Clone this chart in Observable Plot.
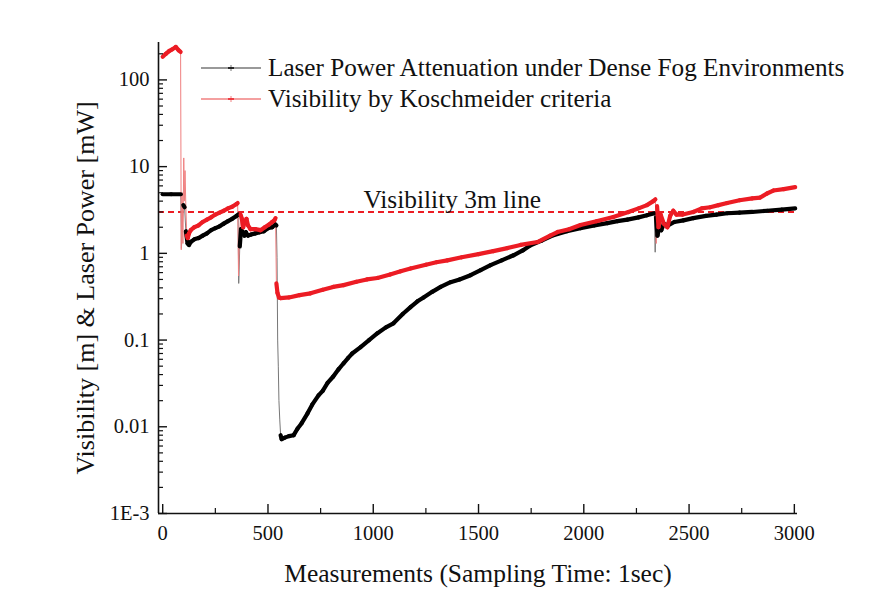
<!DOCTYPE html>
<html><head><meta charset="utf-8">
<script src="https://cdn.jsdelivr.net/npm/d3@7"></script>
<script src="https://cdn.jsdelivr.net/npm/@observablehq/plot@0.6"></script>
<style>
body{margin:0;background:#fff;}
#wrap{position:relative;width:876px;height:600px;font-family:"Liberation Serif","Times New Roman",serif;}
#legend{position:absolute;left:200px;top:52px;font-size:25.2px;color:#111;line-height:31px;}
#legend div{display:flex;align-items:center;white-space:nowrap;}
#legend svg{margin-right:6px;}
</style></head><body><div id="wrap"><div id="legend"></div></div>
<script>
// Laser power attenuation (black) — sample index, power [mW]
const laserX = [0,40,86,89,93,98,104,110,118,125,133,150,170,190,210,230,250,270,290,310,330,350,358,361,366,372,380,388,395,405,420,440,460,480,500,520,535,540,543,546,549,552,556,560,565,580,600,622,640,660,688,710,740,760,783,810,835,859,880,900,940,980,1020,1060,1096,1140,1177,1210,1239,1280,1320,1367,1410,1462,1510,1557,1610,1666,1710,1747,1800,1856,1920,1984,2050,2112,2160,2207,2260,2300,2335,2339,2343,2350,2358,2368,2380,2400,2430,2473,2520,2580,2630,2681,2740,2800,2871,2940,3004];
const laserY = [4.8,4.8,4.8,1.15,2.0,3.6,3.4,1.8,1.3,1.25,1.35,1.45,1.5,1.6,1.7,1.85,1.95,2.05,2.2,2.35,2.5,2.7,2.8,0.45,1.2,1.9,1.75,1.6,1.75,1.6,1.65,1.7,1.75,1.8,1.95,2.0,2.15,2.1,0.9,0.1,0.05,0.02,0.012,0.008,0.0072,0.0075,0.0078,0.008,0.0095,0.011,0.0143,0.018,0.023,0.026,0.032,0.038,0.046,0.054,0.062,0.07,0.083,0.1,0.12,0.14,0.156,0.2,0.24,0.28,0.31,0.36,0.41,0.465,0.5,0.56,0.64,0.73,0.83,0.95,1.08,1.24,1.4,1.62,1.8,1.95,2.1,2.23,2.35,2.45,2.6,2.75,2.9,1.03,2.6,1.6,2.0,1.85,2.2,2.1,2.3,2.4,2.55,2.7,2.8,2.9,2.95,3.0,3.1,3.2,3.3];
// Visibility by Koschmeider criteria (red) — sample index, visibility [m]
const visX = [0,15,30,45,62,75,85,88,92,96,100,103,106,110,114,119,125,133,150,170,190,210,230,250,270,290,310,330,350,356,360,364,370,376,382,390,398,405,417,440,465,485,505,520,530,536,540,545,552,560,600,650,702,760,810,859,920,970,1020,1080,1130,1177,1250,1300,1352,1420,1500,1570,1637,1700,1780,1840,1875,1930,1984,2060,2140,2212,2260,2300,2330,2340,2344,2348,2355,2365,2380,2397,2410,2425,2440,2470,2520,2560,2600,2640,2681,2740,2800,2838,2870,2900,2950,3004];
const visY = [185,200,215,225,240,220,210,1.1,5,1.3,12.6,4,9,3.4,1.6,1.5,1.7,1.85,2.0,2.1,2.3,2.45,2.6,2.8,2.95,3.1,3.3,3.45,3.7,3.8,0.55,1.5,2.8,2.5,2.0,2.3,2.5,2.1,1.9,1.9,1.85,2.0,2.15,2.3,2.4,2.55,0.45,0.35,0.31,0.305,0.31,0.33,0.346,0.38,0.41,0.43,0.47,0.5,0.52,0.57,0.62,0.67,0.74,0.79,0.83,0.9,0.98,1.06,1.15,1.25,1.35,1.6,1.76,1.9,2.12,2.35,2.62,2.99,3.3,3.6,4.0,4.2,1.3,3.5,2.0,2.8,2.2,2.0,2.7,3.1,2.8,2.8,3.0,3.3,3.4,3.6,3.8,4.1,4.3,4.4,4.9,5.3,5.5,5.8];
const seriesNames = ["Laser Power Attenuation under Dense Fog Environments","Visibility by Koschmeider criteria"];
const threshold = 3;
const thresholdLabel = "Visibility 3m line";
const yTicks = [0.001,0.01,0.1,1,10,100];
const yTickLabels = ["1E-3","0.01","0.1","1","10","100"];
const xTicks = [0,500,1000,1500,2000,2500,3000];
const xMinorTicks = [250,750,1250,1750,2250,2750];
const xLabel = "Measurements (Sampling Time: 1sec)";
const yLabel = "Visibility [m] & Laser Power [mW]";

const RED = "#ec1c24", BLACK = "#000";
const W = 876, H = 600, mL = 158, mR = 79, mT = 42, mB = 87;
const plotW = W - mL - mR, plotH = H - mT - mB;

function segments(xs, ys, series) {
  const out = [];
  for (let i = 0; i < xs.length - 1; i++) {
    const slope = Math.abs(Math.log10(ys[i+1]/ys[i])) / (xs[i+1]-xs[i]);
    out.push({x1: xs[i], y1: ys[i], x2: xs[i+1], y2: ys[i+1], series, steep: slope > 0.04});
  }
  return out;
}
const segs = [...segments(laserX, laserY, 0), ...segments(visX, visY, 1)];
const yMinor = [];
for (const d of [0.001,0.01,0.1,1,10,100]) for (let k = 2; k <= 9; k++) if (d*k <= 270) yMinor.push(d*k);
const fmt = new Map(yTicks.map((t,i)=>[t, yTickLabels[i]]));

const chart = Plot.plot({
  width: W, height: H, marginLeft: mL, marginRight: mR, marginTop: mT, marginBottom: mB,
  style: {fontFamily: '"Liberation Serif","Times New Roman",serif', color: "#111", background: "transparent"},
  x: {domain: [-20, 3015]},
  y: {type: "log", domain: [0.001, 270]},
  marks: [
    Plot.ruleY([threshold], {stroke: RED, strokeWidth: 2, strokeDasharray: "6,4"}),
    Plot.text([thresholdLabel], {y: threshold, frameAnchor: "left", textAnchor: "start", dx: 205, dy: -4, lineAnchor: "bottom", fontSize: 25.4, fill: "#111", text: d => d}),
    Plot.link(segs.filter(d => d.steep), {x1: "x1", y1: "y1", x2: "x2", y2: "y2", stroke: d => d.series ? "#f08080" : "#777", strokeWidth: 1}),
    Plot.link(segs.filter(d => !d.steep && d.series === 0), {x1: "x1", y1: "y1", x2: "x2", y2: "y2", stroke: BLACK, strokeWidth: 4.2, strokeLinecap: "round"}),
    Plot.link(segs.filter(d => !d.steep && d.series === 1), {x1: "x1", y1: "y1", x2: "x2", y2: "y2", stroke: RED, strokeWidth: 4.2, strokeLinecap: "round"}),
    Plot.ruleX([-20], {stroke: "#111", strokeWidth: 1.6}),
    Plot.ruleY([0.001], {stroke: "#111", strokeWidth: 1.6}),
    Plot.ruleY(yTicks, {stroke: "#111", strokeWidth: 1.4, insetRight: plotW - 9}),
    Plot.ruleY(yMinor, {stroke: "#111", strokeWidth: 1.2, insetRight: plotW - 5}),
    Plot.ruleX(xTicks, {stroke: "#111", strokeWidth: 1.4, insetTop: plotH - 9}),
    Plot.ruleX(xMinorTicks, {stroke: "#111", strokeWidth: 1.2, insetTop: plotH - 5}),
    Plot.axisY(yTicks, {tickSize: 0, tickPadding: 9, fontSize: 20.5, tickFormat: d => fmt.get(d), label: null}),
    Plot.text([yLabel], {frameAnchor: "left", textAnchor: "middle", lineAnchor: "middle", rotate: -90, dx: -73, dy: 10, fontSize: 26, fill: "#111", text: d => d}),
    Plot.axisX(xTicks, {tickSize: 0, tickPadding: 12, fontSize: 20.5, tickFormat: d => String(d), label: null}),
    Plot.text([xLabel], {frameAnchor: "bottom", lineAnchor: "middle", dy: 60, fontSize: 25.5, fill: "#111", text: d => d})
  ]
});
const wrap = document.getElementById("wrap");
wrap.insertBefore(chart, wrap.firstChild);

const leg = document.getElementById("legend");
[[BLACK,"#777"],[RED,"#f08080"]].forEach(([c, light], i) => {
  const row = document.createElement("div");
  row.innerHTML = `<svg width="62" height="12"><line x1="1" x2="61" y1="6" y2="6" stroke="${light}" stroke-width="1.5"/><line x1="31" x2="31" y1="3" y2="9" stroke="${light}" stroke-width="1"/><line x1="28" x2="34" y1="6" y2="6" stroke="${c}" stroke-width="1.5"/></svg><span>${seriesNames[i]}</span>`;
  leg.appendChild(row);
});
</script></body></html>
